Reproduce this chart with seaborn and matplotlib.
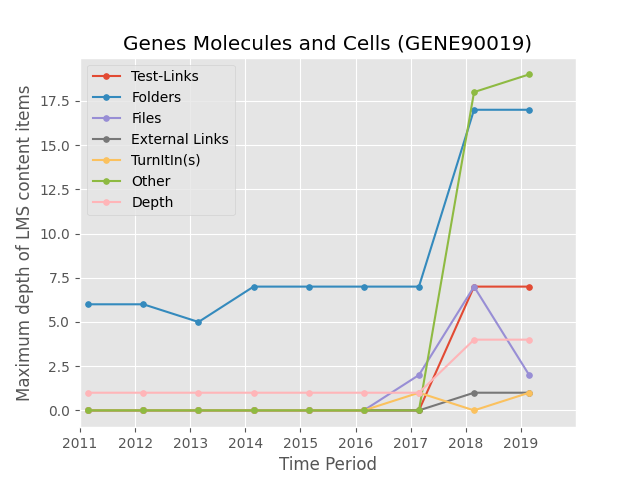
import matplotlib
matplotlib.use('Agg')
import matplotlib.pyplot as plt
import seaborn as sns

plt.style.use('ggplot')

periods = [2011.15, 2012.15, 2013.15, 2014.15, 2015.15, 2016.15, 2017.15, 2018.15, 2019.15]
test_links = [0, 0, 0, 0, 0, 0, 0, 7, 7]
folders = [6, 6, 5, 7, 7, 7, 7, 17, 17]
files = [0, 0, 0, 0, 0, 0, 2, 7, 2]
external_links = [0, 0, 0, 0, 0, 0, 0, 1, 1]
turnitin = [0, 0, 0, 0, 0, 0, 1, 0, 1]
other = [0, 0, 0, 0, 0, 0, 0, 18, 19]
depth = [1, 1, 1, 1, 1, 1, 1, 4, 4]

series = [("Test-Links", test_links), ("Folders", folders), ("Files", files),
          ("External Links", external_links), ("TurnItIn(s)", turnitin),
          ("Other", other), ("Depth", depth)]
colors = ['#E24A33', '#348ABD', '#988ED5', '#777777', '#FBC15E', '#8EBA42', '#FFB5B8']

fig, ax = plt.subplots(figsize=(6.4, 4.8), dpi=100)
for (name, vals), c in zip(series, colors):
    sns.lineplot(x=periods, y=vals, ax=ax, color=c, marker='.', markersize=8,
                 markeredgecolor=c, label=name)

ax.set_xlim(2011, 2020)
ax.set_xticks(range(2011, 2020))
ax.set_title('Genes Molecules and Cells (GENE90019)')
ax.set_xlabel('Time Period')
ax.set_ylabel('Maximum depth of LMS content items')
ax.legend(loc='upper left')
plt.savefig('out.png')
